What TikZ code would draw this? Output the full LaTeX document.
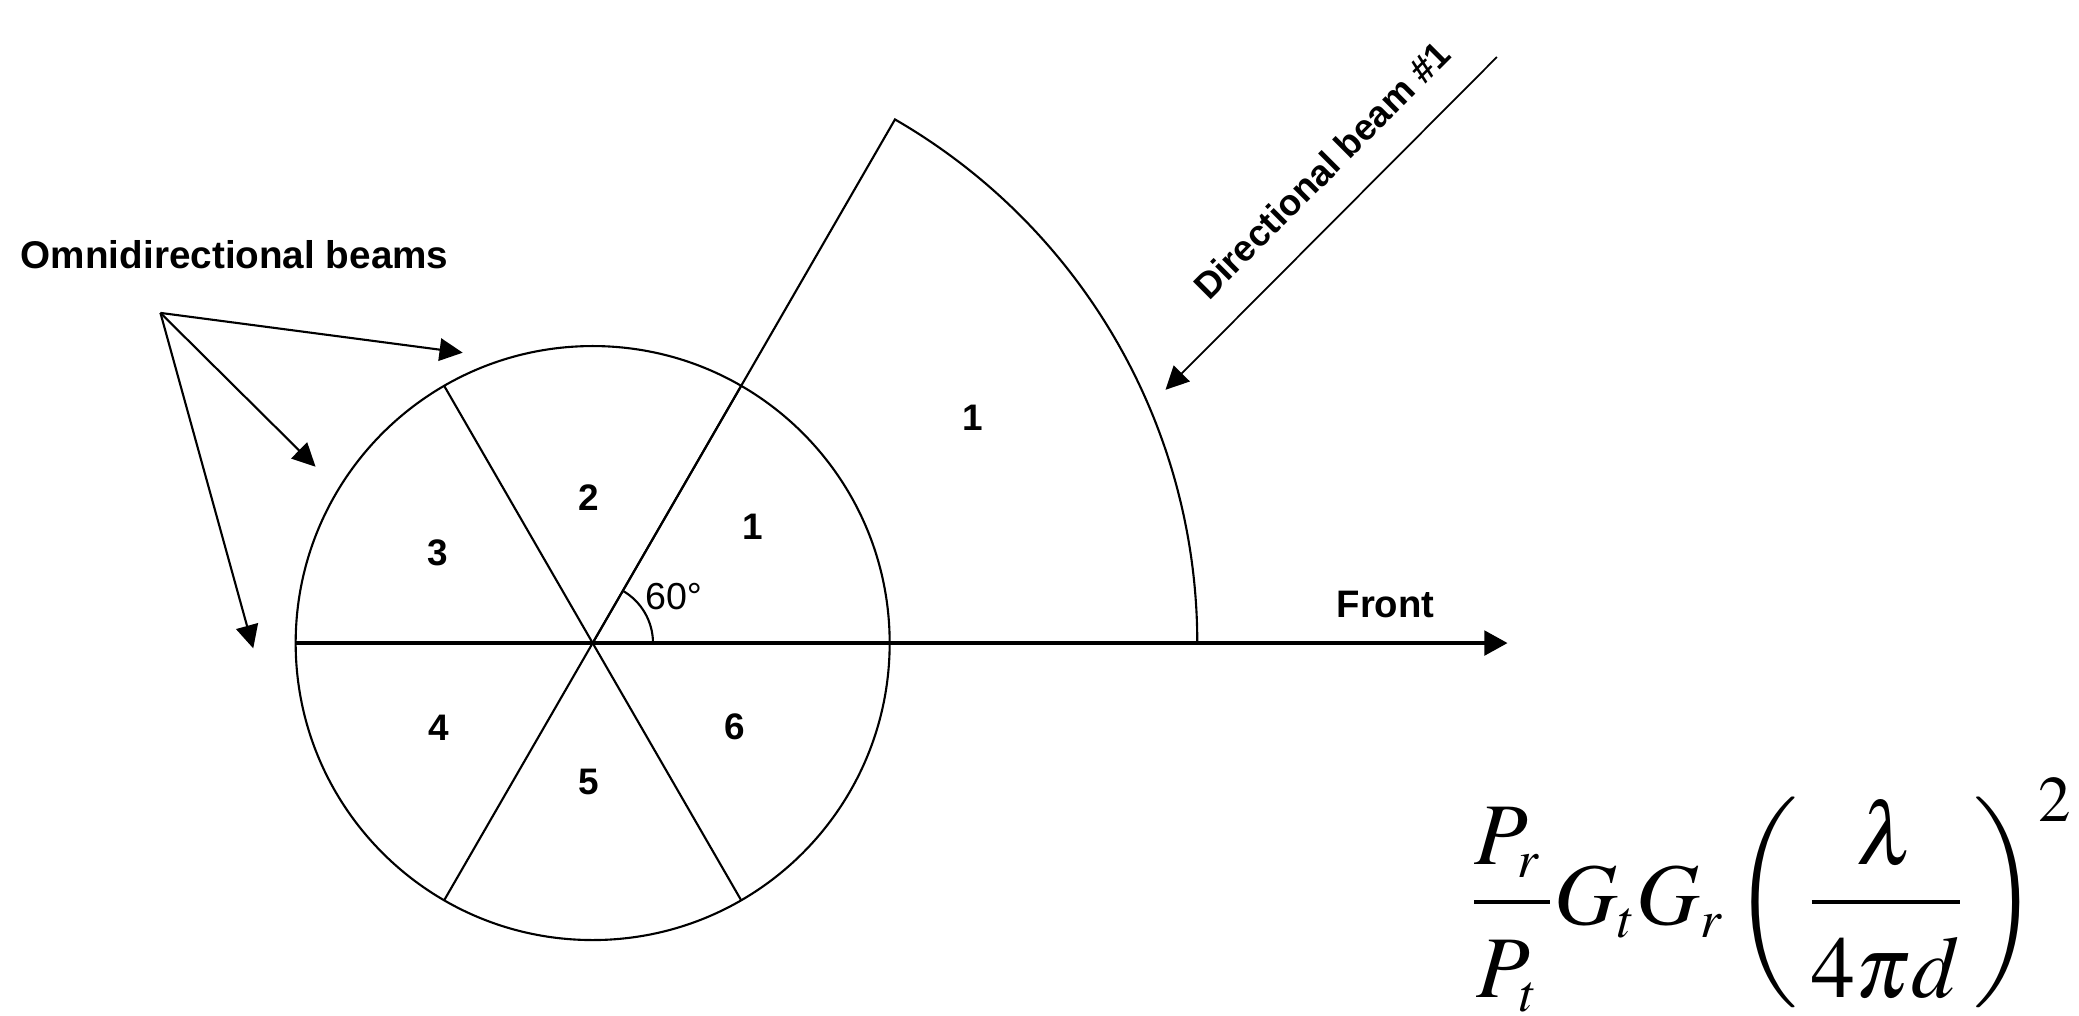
\documentclass[tikz,border=0pt]{standalone}
\usepackage{amsmath,amssymb}
\usepackage{mathptmx}
\usepackage{fontspec}
\setmainfont{Liberation Sans}
\usepackage{xcolor}
\usepackage{tikz}
\usetikzlibrary{arrows.meta, positioning, calc}

\newcommand{\numgap}{\rule[-0.28em]{0pt}{0pt}}
\newcommand{\dengap}{\rule{0pt}{0.95em}}

\begin{document}
\begin{tikzpicture}[
    x=0.01326cm, y=0.01326cm,
    every node/.style={font=\fontsize{10.5}{12}\selectfont\bfseries},
    sector/.style={inner sep=0pt},
    thinline/.style={line width=0.6pt},
    axis/.style={line width=1pt, -{Triangle[length=6.6pt, width=7pt]}},
    pointer/.style={line width=0.6pt, -{Triangle[length=6.6pt, width=6.4pt]}}
]
\useasboundingbox (-447,-281) rectangle (1121,485);

% circle of six omnidirectional sectors
\draw[thinline] (0,0) circle (224);
\draw[thinline] (240:224) -- (60:224);
\draw[thinline] (120:224) -- (300:224);

% directional beam sector
\draw[thinline] (0,0) -- (60:456) arc[start angle=60, end angle=0, radius=456];

% front axis
\coordinate (back) at (180:224);
\coordinate (tip) at (690,0);
\draw[axis] (back) -- (tip);
\node[font=\fontsize{10.9}{12}\selectfont\bfseries] (front) at (598,29) {Front};

% angle mark
\draw[thinline] (45.5,0) arc[start angle=0, end angle=60, radius=45.5];
\node[font=\fontsize{10.7}{12}\selectfont, inner sep=0pt] (angle) at (61,35) {60°};

% sector numbers
\node[sector] (s1) at (121,88) {1};
\node[sector] (s2) at (-3,110) {2};
\node[sector] (s3) at (-117,68) {3};
\node[sector] (s4) at (-116,-64) {4};
\node[sector] (s5) at (-3,-105) {5};
\node[sector] (s6) at (107,-63) {6};
\node[sector] (d1) at (287,170) {1};

% omnidirectional pointers
\node[font=\fontsize{11}{13}\selectfont\bfseries] (omni) at (-270,293) {Omnidirectional beams};
\coordinate (src) at (-326,249);
\coordinate (o1) at (-98,219);
\coordinate (o2) at (-209,133);
\coordinate (o3) at (-256,-4);
\draw[pointer] (src) -- (o1);
\draw[pointer] (src) -- (o2);
\draw[pointer] (src) -- (o3);

% directional pointer
\coordinate (dsrc) at (682,442);
\coordinate (dtip) at (432,191);
\draw[pointer, line width=0.5pt] (dsrc) -- (dtip);
\node[rotate=45, font=\fontsize{10.4}{12}\selectfont\bfseries] (dir) at (550,357) {Directional beam \#1};

% link budget
\node[font=\fontsize{25}{30}\selectfont, inner sep=0pt] (friis) at (889,-190)
    {$\displaystyle \frac{P_{\scriptscriptstyle r}\numgap\,}{P_{\scriptscriptstyle t}\dengap\,} G_{\scriptscriptstyle t} G_{\scriptscriptstyle r} \left(\,\frac{\lambda\numgap}{4\pi d\dengap}\,\right)^{2}$};

\end{tikzpicture}
\end{document}
